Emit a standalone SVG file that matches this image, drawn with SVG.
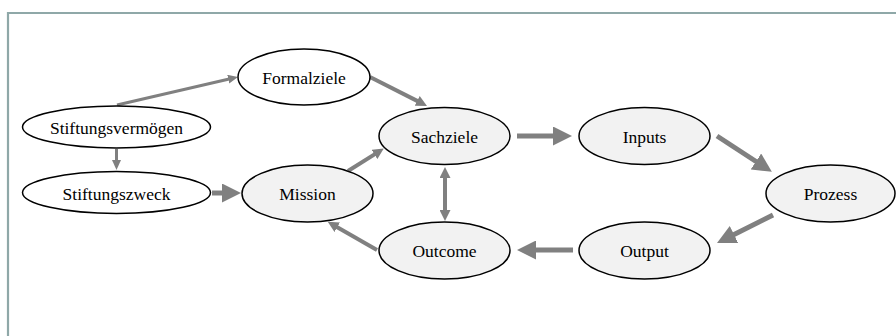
<svg xmlns="http://www.w3.org/2000/svg" width="896" height="336" viewBox="0 0 896 336">
<style>
.n ellipse{stroke:#000;stroke-width:1.5}
.w ellipse{fill:#fff}
.g ellipse{fill:#f2f2f2}
.n text{font-family:'Liberation Serif','Times New Roman','DejaVu Serif',serif;font-size:17.5px;fill:#000;text-anchor:middle}
.c line{stroke:#808080;fill:none}
.s{stroke-width:3}
.m{stroke-width:4}
.l{stroke-width:5}
</style>
<defs>
<marker id="hs" markerUnits="userSpaceOnUse" markerWidth="10" markerHeight="9" refX="1" refY="4.5" orient="auto"><path d="M0,0 L10,4.5 L0,9 z" fill="#808080"/></marker>
<marker id="hm" markerUnits="userSpaceOnUse" markerWidth="11" markerHeight="11" refX="1" refY="5.5" orient="auto"><path d="M0,0 L11,5.5 L0,11 z" fill="#808080"/></marker>
<marker id="hl" markerUnits="userSpaceOnUse" markerWidth="19" markerHeight="19" refX="1" refY="9.5" orient="auto"><path d="M0,0 L19,9.5 L0,19 z" fill="#808080"/></marker>
</defs>
<rect width="896" height="336" fill="#fff"/>
<path d="M8,340 V13 H900" fill="none" stroke="#8fa8a8" stroke-width="2.2"/>
<g class="c" id="connectors">
<line class="s" x1="117" y1="105" x2="229.2" y2="79" marker-end="url(#hs)"/>
<line class="s" x1="116.5" y1="149" x2="116.5" y2="161" marker-end="url(#hs)"/>
<line class="l" x1="212" y1="193" x2="223" y2="193" marker-end="url(#hl)"/>
<line class="m" x1="370" y1="77" x2="418.1" y2="101.4" marker-end="url(#hm)"/>
<line class="m" x1="348" y1="171" x2="375.3" y2="153.9" marker-end="url(#hm)"/>
<line class="m" x1="445" y1="177" x2="445" y2="211" marker-end="url(#hm)"/>
<line class="m" x1="445" y1="211" x2="445" y2="177" marker-end="url(#hm)"/>
<line class="m" x1="377" y1="250" x2="336.4" y2="226.8" marker-end="url(#hm)"/>
<line class="l" x1="517" y1="136" x2="554" y2="136" marker-end="url(#hl)"/>
<line class="l" x1="717" y1="136" x2="756.8" y2="162" marker-end="url(#hl)"/>
<line class="l" x1="773" y1="215" x2="733.1" y2="234.9" marker-end="url(#hl)"/>
<line class="l" x1="573" y1="250" x2="535" y2="250" marker-end="url(#hl)"/>
</g>
<g id="stiftungsvermoegen" class="n w"><ellipse cx="116.5" cy="127" rx="94" ry="21"/><text x="116.5" y="134">Stiftungsvermögen</text></g>
<g id="stiftungszweck" class="n w"><ellipse cx="116.5" cy="192.5" rx="94" ry="21"/><text x="116.5" y="200">Stiftungszweck</text></g>
<g id="formalziele" class="n w"><ellipse cx="304" cy="77" rx="66" ry="28"/><text x="304" y="84">Formalziele</text></g>
<g id="mission" class="n g"><ellipse cx="307.5" cy="193.5" rx="65.5" ry="28.5"/><text x="307.5" y="200">Mission</text></g>
<g id="sachziele" class="n g"><ellipse cx="444.5" cy="136" rx="65.5" ry="28.5"/><text x="444.5" y="142.5">Sachziele</text></g>
<g id="outcome" class="n g"><ellipse cx="444.5" cy="250.5" rx="65.5" ry="28.5"/><text x="444.5" y="257">Outcome</text></g>
<g id="inputs" class="n g"><ellipse cx="644.5" cy="136" rx="65.5" ry="28.5"/><text x="644.5" y="142.5">Inputs</text></g>
<g id="prozess" class="n g"><ellipse cx="830.5" cy="193.5" rx="64.5" ry="28.5"/><text x="830.5" y="200">Prozess</text></g>
<g id="output" class="n g"><ellipse cx="644.5" cy="250.5" rx="65.5" ry="28.5"/><text x="644.5" y="257">Output</text></g>
</svg>
